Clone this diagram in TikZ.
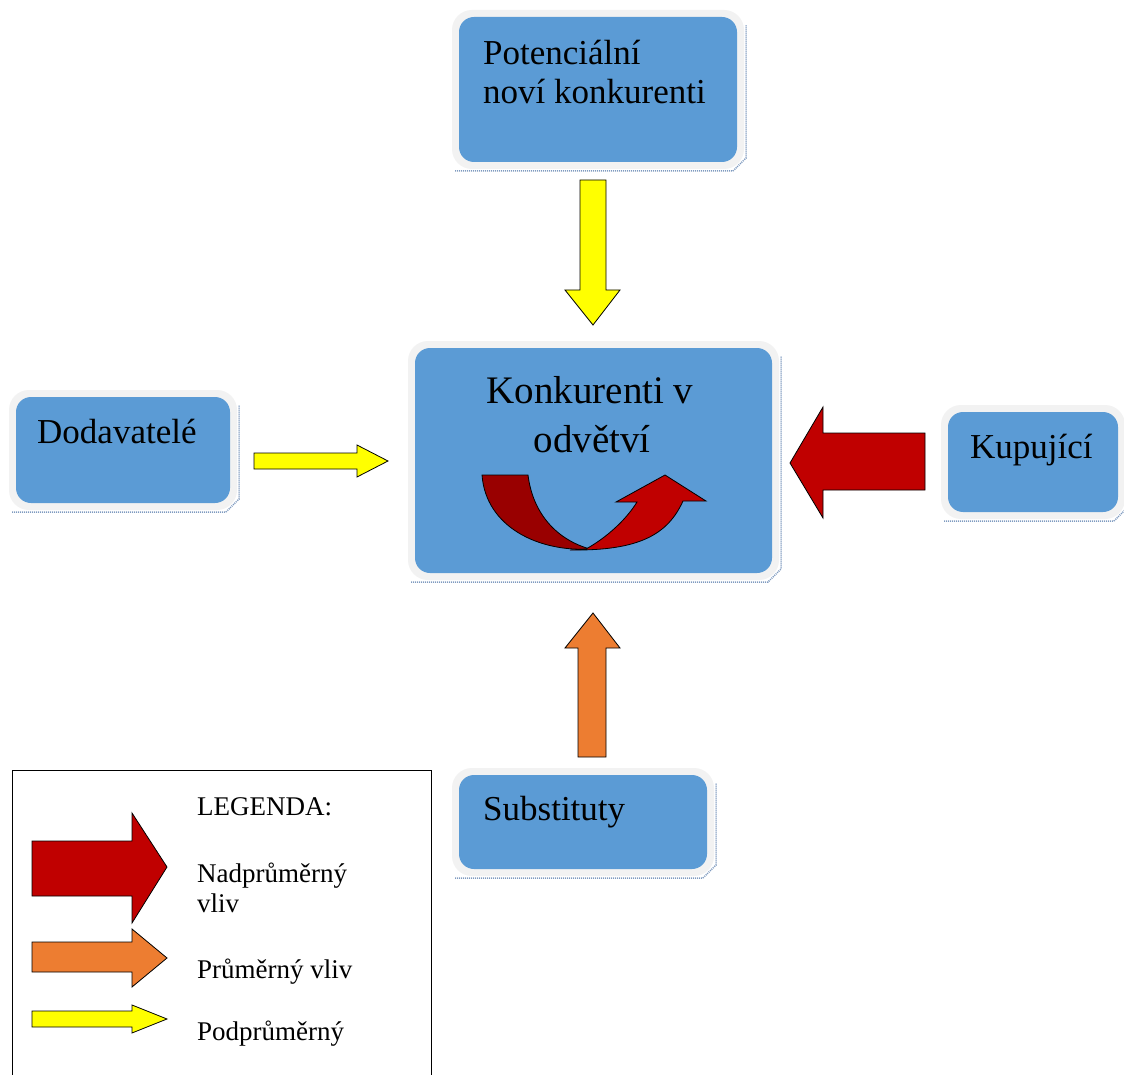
\documentclass[tikz,border=0pt]{standalone}
\usepackage{fontspec}
\setmainfont{Liberation Serif}
\definecolor{boxblue}{HTML}{5B9BD5}
\definecolor{rim}{HTML}{F2F2F2}
\definecolor{boxshadow}{HTML}{7F9BC0}
\definecolor{bigred}{HTML}{C00000}
\definecolor{darkred}{HTML}{990000}
\definecolor{midorange}{HTML}{ED7D31}
\definecolor{lowyellow}{HTML}{FFFF00}
\newcommand{\forcebox}[5]{% name, x1, y1, x2, y2 (inner blue)
  \fill[rim, rounded corners=20] ({#2-7},{#3-7}) rectangle ({#4+7},{#5+7});
  \draw[draw=boxshadow, dash pattern=on 1pt off 1pt, line width=1.5] ({#2-4},{#5+9}) -- ({#4-4},{#5+9}) -- ({#4+9},{#5-4}) -- ({#4+9},{#3+8});
  \node[bluebox, minimum width={#4-#2}, minimum height={#5-#3}] (#1) at ({(#2+#4)/2},{(#3+#5)/2}) {};
}
\begin{document}
\begin{tikzpicture}[x=1pt, y=-1pt,
  bluebox/.style={fill=boxblue, rounded corners=15, inner sep=0pt, outer sep=0pt},
  boxtext/.style={font=\fontsize{35}{39}\selectfont, inner sep=0pt, anchor=base west},
  centertext/.style={font=\fontsize{39}{46}\selectfont, inner sep=0pt, anchor=base},
  legtext/.style={font=\fontsize{27}{30}\selectfont, inner sep=0pt, anchor=base west},
  blockarrow/.style={draw=black, line width=0.8pt, line join=miter}]
\useasboundingbox (0,0) rectangle (1124,1075);
\fill[white] (0,0) rectangle (1124,1075);

% boxes
\forcebox{potential}{459}{17}{737}{162}
\forcebox{rivals}{415}{348}{772}{573}
\forcebox{suppliers}{16}{397}{230}{503}
\forcebox{buyers}{948}{412}{1118}{512}
\forcebox{substitutes}{459}{775}{707}{869}

% box texts
\node[boxtext] (tpot1) at (483,65) {Potenciální};
\node[boxtext] (tpot2) at (483,104) {noví konkurenti};
\node[boxtext] (tsup) at (37,443) {Dodavatelé};
\node[boxtext] (tbuy) at (970,458) {Kupující};
\node[boxtext] (tsub) at (483,820) {Substituty};
\node[centertext] (triv1) at (590,403) {Konkurenti v};
\node[centertext] (triv2) at (592,452) {odvětví};

% rivalry U-turn arrow
\path[blockarrow, fill=darkred] (482,475) -- (528,475)
  .. controls (533,515) and (558,540) .. (590,549)
  .. controls (540,552) and (486,528) .. (482,475) -- cycle;
\path[blockarrow, fill=bigred] (586,549)
  .. controls (606,538) and (626,520) .. (637,502)
  -- (616,502) -- (665,475) -- (706,501) -- (683,501)
  .. controls (668,534) and (640,551) .. (570,550) -- cycle;

% force arrows
\path[blockarrow, fill=lowyellow] (580,180) -- (606,180) -- (606,290) -- (620,290) -- (593,325) -- (565,290) -- (580,290) -- cycle;
\path[blockarrow, fill=lowyellow] (254,453) -- (357,453) -- (357,445) -- (388,461) -- (357,477) -- (357,469) -- (254,469) -- cycle;
\path[blockarrow, fill=bigred] (925,433) -- (823,433) -- (823,407) -- (790,463) -- (823,518) -- (823,490) -- (925,490) -- cycle;
\path[blockarrow, fill=midorange] (578,757) -- (578,648) -- (565,648) -- (593,613) -- (620,648) -- (606,648) -- (606,757) -- cycle;

% legend
\draw[black, line width=0.8pt] (12,1076) -- (12,770) -- (431,770) -- (431,1076);
\path[blockarrow, fill=bigred] (32,841) -- (132,841) -- (132,813) -- (167,867) -- (132,923) -- (132,896) -- (32,896) -- cycle;
\path[blockarrow, fill=midorange] (32,942) -- (132,942) -- (132,929) -- (167,958) -- (132,987) -- (132,972) -- (32,972) -- cycle;
\path[blockarrow, fill=lowyellow] (32,1011) -- (132,1011) -- (132,1005) -- (167,1019) -- (132,1033) -- (132,1027) -- (32,1027) -- cycle;
\node[legtext] (lhead) at (197,815) {LEGENDA:};
\node[legtext] (lhigh1) at (197,882) {Nadprůměrný};
\node[legtext] (lhigh2) at (197,912) {vliv};
\node[legtext] (lmid) at (197,978) {Průměrný vliv};
\node[legtext] (llow) at (197,1040) {Podprůměrný};
\end{tikzpicture}
\end{document}
